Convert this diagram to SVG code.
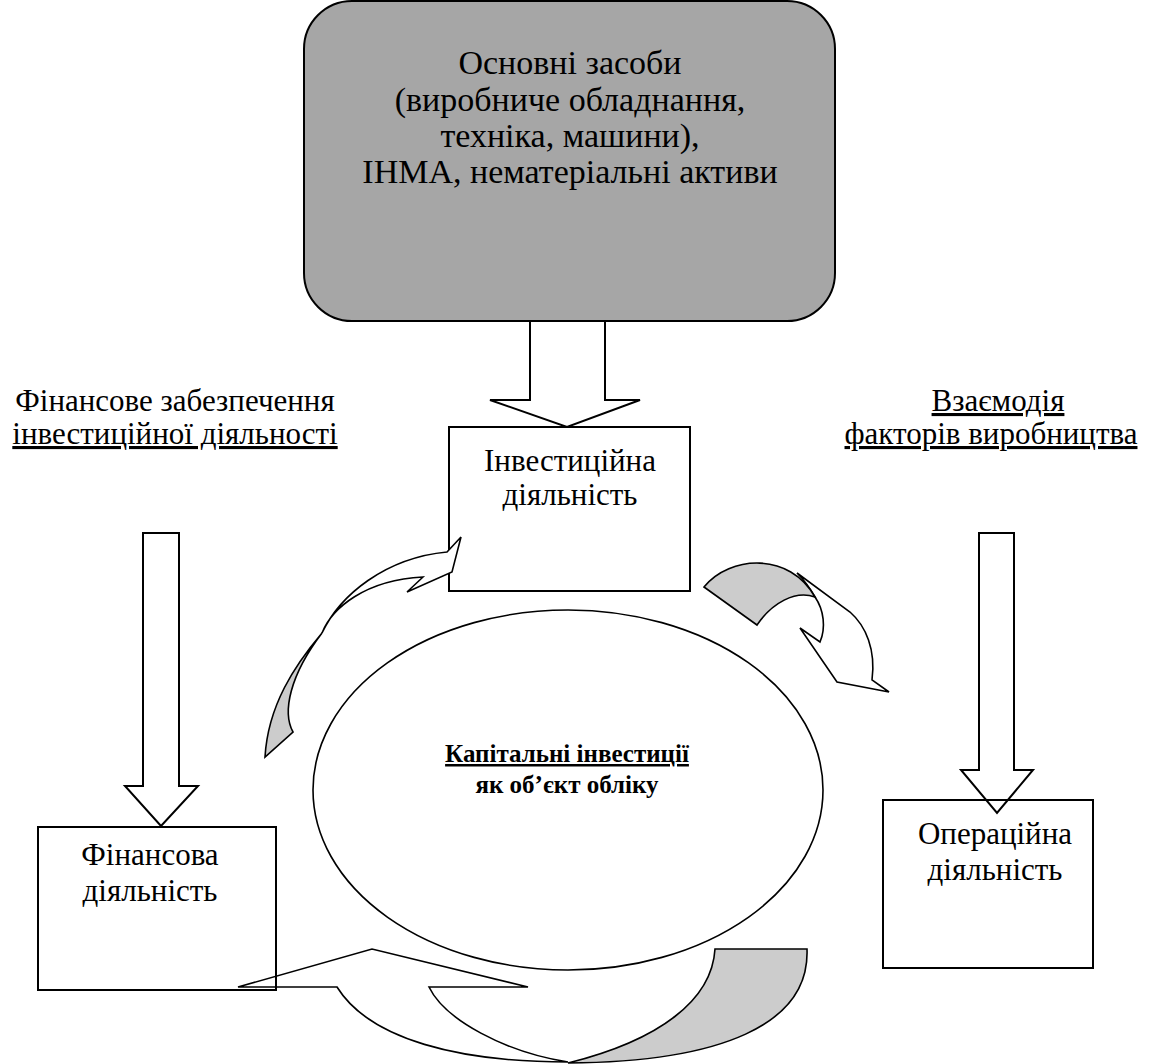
<svg xmlns="http://www.w3.org/2000/svg" width="1154" height="1064" viewBox="0 0 1154 1064">
  <style>
    .txt { font-family: "Liberation Serif", "Times New Roman", serif; font-size: 31px; fill: #000; text-anchor: middle; }
    .big { font-size: 34px; }
    .bold { font-weight: bold; font-size: 25px; }
    .ul { text-decoration: underline; }
    .box { fill: #fff; stroke: #000; stroke-width: 2; }
    .frame { fill: none; stroke: #000; stroke-width: 2; }
    .arrow { fill: #fff; stroke: #000; stroke-width: 2; stroke-linejoin: miter; }
    .band { fill: #fff; stroke: #000; stroke-width: 1.6; stroke-linejoin: miter; }
    .shade { fill: #cccccc; stroke: #000; stroke-width: 1.6; stroke-linejoin: miter; }
  </style>

  <rect width="1154" height="1064" fill="#fff"/>

  <!-- fixed assets block -->
  <g id="fixed-assets">
    <rect x="304" y="1" width="531" height="320" rx="48" ry="48" fill="#a6a6a6" stroke="#000" stroke-width="2"/>
    <text class="txt big" x="570" y="74">Основні засоби</text>
    <text class="txt big" x="570" y="111">(виробниче обладнання,</text>
    <text class="txt big" x="570" y="147">техніка, машини),</text>
    <text class="txt big" x="570" y="183">ІНМА, нематеріальні активи</text>
  </g>

  <!-- central object -->
  <g id="capital-investments">
    <ellipse cx="568" cy="790" rx="255" ry="180" fill="#fff" stroke="#000" stroke-width="1.6"/>
    <text class="txt bold ul" x="567" y="762">Капітальні інвестиції</text>
    <text class="txt bold" x="567" y="793">як об’єкт обліку</text>
  </g>

  <g id="investment-activity">
    <rect class="box" x="449" y="427" width="241" height="164"/>
    <text class="txt" x="570" y="471">Інвестиційна</text>
    <text class="txt" x="570" y="505">діяльність</text>
  </g>

  <g id="label-financing">
    <text class="txt" x="175" y="411">Фінансове забезпечення</text>
    <text class="txt ul" x="175" y="444">інвестиційної діяльності</text>
  </g>

  <g id="label-interaction">
    <text class="txt ul" x="998" y="411">Взаємодія</text>
    <text class="txt ul" x="991" y="444">факторів виробництва</text>
  </g>

  <!-- connectors: block arrows and curved flow arrows -->
  <g id="connectors">
    <polygon class="arrow" points="530,321 605,321 605,400 640,400 567,427 490,400 530,400"/>
    <polygon class="arrow" points="143,533 179,533 179,786 198,786 161,826 125,786 143,786"/>
    <polygon class="arrow" points="979,533 1014,533 1014,770 1033,770 997,813 961,770 979,770"/>

    <!-- investment -> operation -->
    <path class="band" d="M797,573 L850,612 C866,626 876,650 872,680 L889,692 L837,682 L800,628 L820,642 C826,628 824,610 815,597 C810,588 804,580 797,573 Z"/>
    <path class="shade" d="M704,587 C730,555 790,552 815,597 C795,590 772,603 757,625 Z"/>

    <!-- operation -> financing -->
    <path class="band" d="M238,987 L372,949 L528,987 L429,987 C445,1020 505,1052 568,1062 C460,1062 370,1040 337,987 Z"/>
    <path class="shade" d="M715,949 L807,949 C810,1025 720,1062 568,1063 C660,1040 712,1000 715,949 Z"/>

    <!-- financing -> investment -->
    <path class="band" d="M447,552 C385,558 340,595 322,633 C332,608 365,580 423,577 L407,592 L452,572 L461,537 Z"/>
    <path class="shade" d="M322,633 C295,665 268,705 265,757 L293,732 C282,712 290,675 322,633 Z"/>
  </g>

  <g id="financial-activity">
    <rect class="frame" x="38" y="827" width="238" height="163"/>
    <text class="txt" x="150" y="865">Фінансова</text>
    <text class="txt" x="150" y="901">діяльність</text>
  </g>

  <g id="operating-activity">
    <rect class="frame" x="883" y="800" width="210" height="168"/>
    <text class="txt" x="995" y="844">Операційна</text>
    <text class="txt" x="995" y="880">діяльність</text>
  </g>
</svg>
